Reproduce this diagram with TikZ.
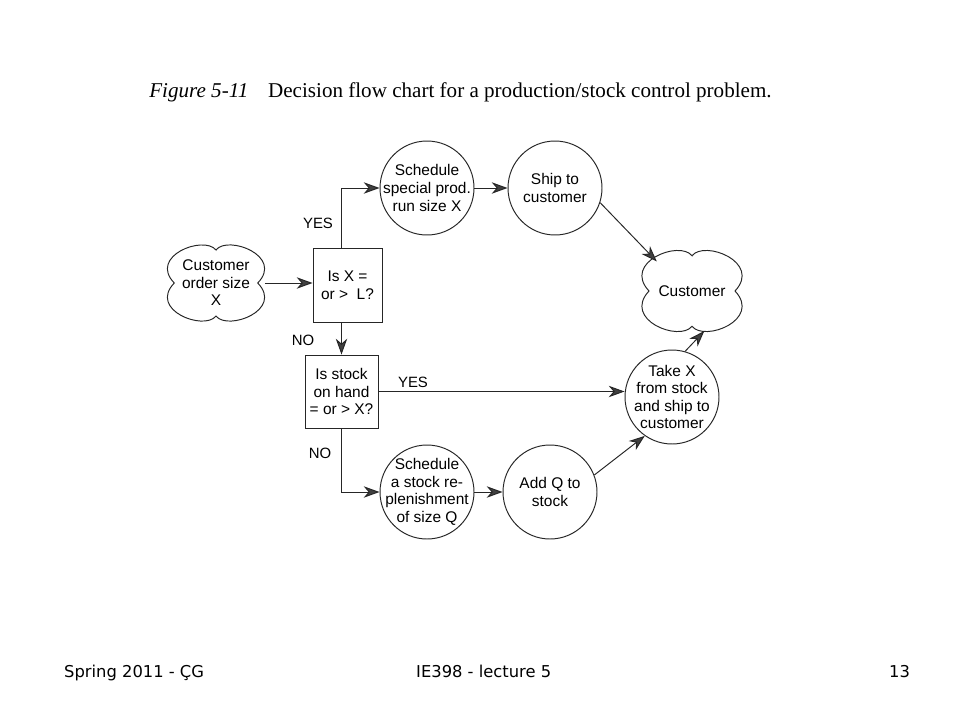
\documentclass[tikz,border=0pt]{standalone}
\usepackage{fontspec}
\setmainfont{Liberation Serif}
\newfontfamily\chartfont{Liberation Sans}
\newfontfamily\slidefont{DejaVu Sans}
\usetikzlibrary{arrows.meta,shapes.geometric}

\def \circleSize {1.88cm}
\def \lineColor {black!85}

% four-lobed outline round a node: name, half width, half height (px)
\newcommand\cloudRim[3]{%
   \draw[rim, shift={(#1.center)}, xscale=#2, yscale=#3]
      (0, -0.86) .. controls (0.25, -1.25) and (1.4, -0.7) .. (0.86, 0)
      .. controls (1.4, 0.7) and (0.25, 1.25) .. (0, 0.86)
      .. controls (-0.25, 1.25) and (-1.4, 0.7) .. (-0.86, 0)
      .. controls (-1.4, -0.7) and (-0.25, -1.25) .. cycle;}

\tikzset{
  flow/.style={draw=\lineColor, line width=0.55pt,
    -{Stealth[length=9pt, width=6.5pt, inset=2.8pt, fill=black!75]}},
  rim/.style={draw=\lineColor, line width=0.55pt},
  proc/.style={circle, draw=\lineColor, line width=0.55pt, minimum size=\circleSize,
    inner sep=-12pt, align=center, font=\chartfont\fontsize{8.8}{10}\selectfont},
  query/.style={rectangle, draw=\lineColor, line width=0.55pt, inner sep=0pt,
    align=center, font=\chartfont\fontsize{8.8}{10}\selectfont},
  party/.style={ellipse, inner sep=-8pt, align=center,
    font=\chartfont\fontsize{8.8}{10}\selectfont},
  answer/.style={font=\chartfont\fontsize{8.5}{10}\selectfont},
  slide/.style={anchor=base west, font=\slidefont\fontsize{9.3}{11}\selectfont}
}

\begin{document}
\begin{tikzpicture}[x=0.02cm, y=-0.02cm]
   \useasboundingbox (0, 0) rectangle (960, 720);

   % caption
   \node[anchor=base west, inner sep=0pt, font=\fontsize{12}{14}\selectfont] (caption) at (149, 97)
      {\textit{Figure 5-11}\hspace{11.3pt}Decision flow chart for a production/stock control problem.};

   % nodes
   \node[party, minimum width=1.94cm, minimum height=1.54cm] (order) at (216, 283) {Customer\\order size\\X};
   \node[query, minimum width=1.38cm, minimum height=1.48cm] (bigQ) at (347.5, 285) {Is X =\\or >\ \ L?};
   \node[query, minimum width=1.46cm, minimum height=1.46cm] (stockQ) at (341.5, 391.5) {Is stock\\on hand\\= or > X?};
   \node[proc] (special) at (427, 188) {Schedule\\special prod.\\run size X};
   \node[proc] (ship) at (555, 188) {Ship to\\customer};
   \node[party, minimum width=2.0cm, minimum height=1.64cm] (customer) at (692, 291) {Customer};
   \node[proc] (take) at (672, 397) {Take X\\from stock\\and ship to\\customer};
   \node[proc] (replenish) at (427, 492) {Schedule\\a stock re-\\plenishment\\of size Q};
   \node[proc] (add) at (550, 492) {Add Q to\\stock};

   \cloudRim{order}{48.5}{38.5}
   \cloudRim{customer}{50}{41}

   % connectors
   \draw[flow] (order.east) -- (order.east -| bigQ.west);
   \draw[flow] (stockQ.north |- bigQ.north) |- (special.west);
   \draw[flow] (special) -- (ship);
   \draw[flow] (ship.-18) -- (customer.140);
   \draw[flow] (stockQ.north |- bigQ.south) -- (stockQ.north);
   \draw[flow] (stockQ.east) -- (stockQ.east -| take.west);
   \draw[flow] (stockQ.south) |- (replenish.west);
   \draw[flow] (replenish) -- (add);
   \draw[flow] (add.21) -- (take.235);
   \draw[flow] (take.74) -- (customer.287);

   % answers
   \node[answer] (yesBig) at (318, 223) {YES};
   \node[answer] (noBig) at (303, 340) {NO};
   \node[answer] (yesStock) at (413, 382) {YES};
   \node[answer] (noStock) at (320, 453) {NO};

   % footer
   \node[slide] (term) at (58, 677) {Spring 2011 - ÇG};
   \node[slide] (course) at (410, 677) {IE398 - lecture 5};
   \node[slide] (page) at (883, 677) {13};
\end{tikzpicture}
\end{document}
